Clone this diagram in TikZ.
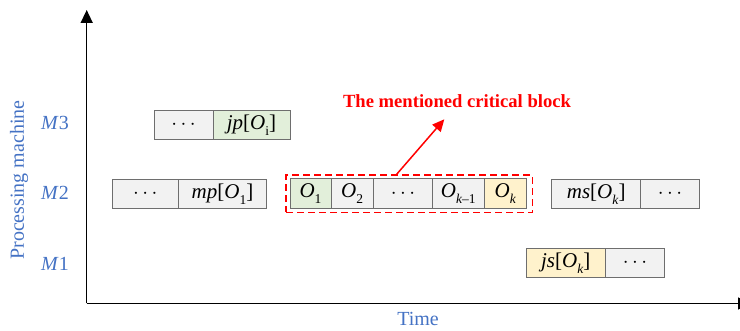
\documentclass[tikz,border=0pt]{standalone}
\usepackage{fontspec}
\setmainfont{Liberation Serif}
\usetikzlibrary{arrows.meta}
\definecolor{axisblue}{RGB}{68,114,196}
\definecolor{cellgray}{RGB}{242,242,242}
\definecolor{cellgreen}{RGB}{226,239,218}
\definecolor{cellyellow}{RGB}{255,242,204}
\definecolor{cellline}{RGB}{110,110,110}
\newcommand\lowsub[1]{\raisebox{-0.28em}{\fontsize{13.5}{13.5}\selectfont #1}}
\newcommand\dotsx{$\cdots$}
\tikzset{
  cell/.style={draw=cellline, line width=0.8pt, fill=cellgray, minimum height=29.5pt,
    inner sep=0pt, font=\fontsize{21}{25}\selectfont},
  axislabel/.style={text=axisblue, font=\fontsize{20}{24}\selectfont, inner sep=0pt},
  axisline/.style={line width=1.5pt, -{Triangle[width=12pt,length=13pt]}},
}
\begin{document}
\begin{tikzpicture}[x=1pt,y=-1pt]
\useasboundingbox (0,0) rectangle (740,331);
% axes
\coordinate (orig) at (86.7,303.5);
\coordinate (ytop) at (86.7,10);
\coordinate (xend) at (751,303.5);
\draw[axisline] (orig) -- (ytop);
\draw[axisline] (orig) -- (xend);
% axis labels
\node[axislabel, rotate=90] (ylab) at (19,180) {Processing machine};
\node[axislabel] (xlab) at (418,319) {Time};
\node[axislabel] (m3) at (55,123) {\textit{M}3};
\node[axislabel] (m2) at (55,193) {\textit{M}2};
\node[axislabel] (m1) at (55,264) {\textit{M}1};
% M3 row
\node[cell, minimum width=59pt] (a1) at (183.5,125) {\dotsx};
\node[cell, minimum width=77pt, fill=cellgreen] (a2) at (251.5,125) {\textit{jp}[\textit{O}\lowsub{i}]};
% M2 row
\node[cell, minimum width=66pt] (b1) at (145.3,194) {\dotsx};
\node[cell, minimum width=88.4pt] (b2) at (222.5,194) {\textit{mp}[\textit{O}\lowsub{1}]};
\node[cell, minimum width=41pt, fill=cellgreen] (k1) at (310.5,193.5) {\textit{O}\lowsub{1}};
\node[cell, minimum width=42.3pt] (k2) at (352.2,193.5) {\textit{O}\lowsub{2}};
\node[cell, minimum width=59.4pt] (k3) at (403,193.5) {\dotsx};
\node[cell, minimum width=51.3pt] (k4) at (458.3,193.5) {\textit{O}\lowsub{\textit{k}–1}};
\node[cell, minimum width=42.7pt, fill=cellyellow] (k5) at (505.3,193.5) {\textit{O}\lowsub{\textit{k}}};
\node[cell, minimum width=89pt] (c1) at (596.2,194) {\textit{ms}[\textit{O}\lowsub{\textit{k}}]};
\node[cell, minimum width=58.6pt] (c2) at (670,194) {\dotsx};
% M1 row
\node[cell, minimum width=79.7pt, fill=cellyellow] (d1) at (565.8,263) {\textit{js}[\textit{O}\lowsub{\textit{k}}]};
\node[cell, minimum width=58.6pt] (d2) at (635,263) {\dotsx};
% critical block
\node[draw=red, line width=1.5pt, dash pattern=on 7pt off 4pt, minimum width=246.3pt,
  minimum height=37.3pt, inner sep=0pt] (blk) at (409.15,193.65) {};
\node[text=red, font=\fontsize{18.6}{22}\selectfont\bfseries, inner sep=0pt] (title) at (457,101)
  {The mentioned critical block};
\coordinate (arrtip) at (444.3,119.3);
\draw[red, line width=1.5pt, -{Triangle[width=11pt,length=12pt]}] (blk.north -| 396.7,0) -- (arrtip);
\end{tikzpicture}
\end{document}
